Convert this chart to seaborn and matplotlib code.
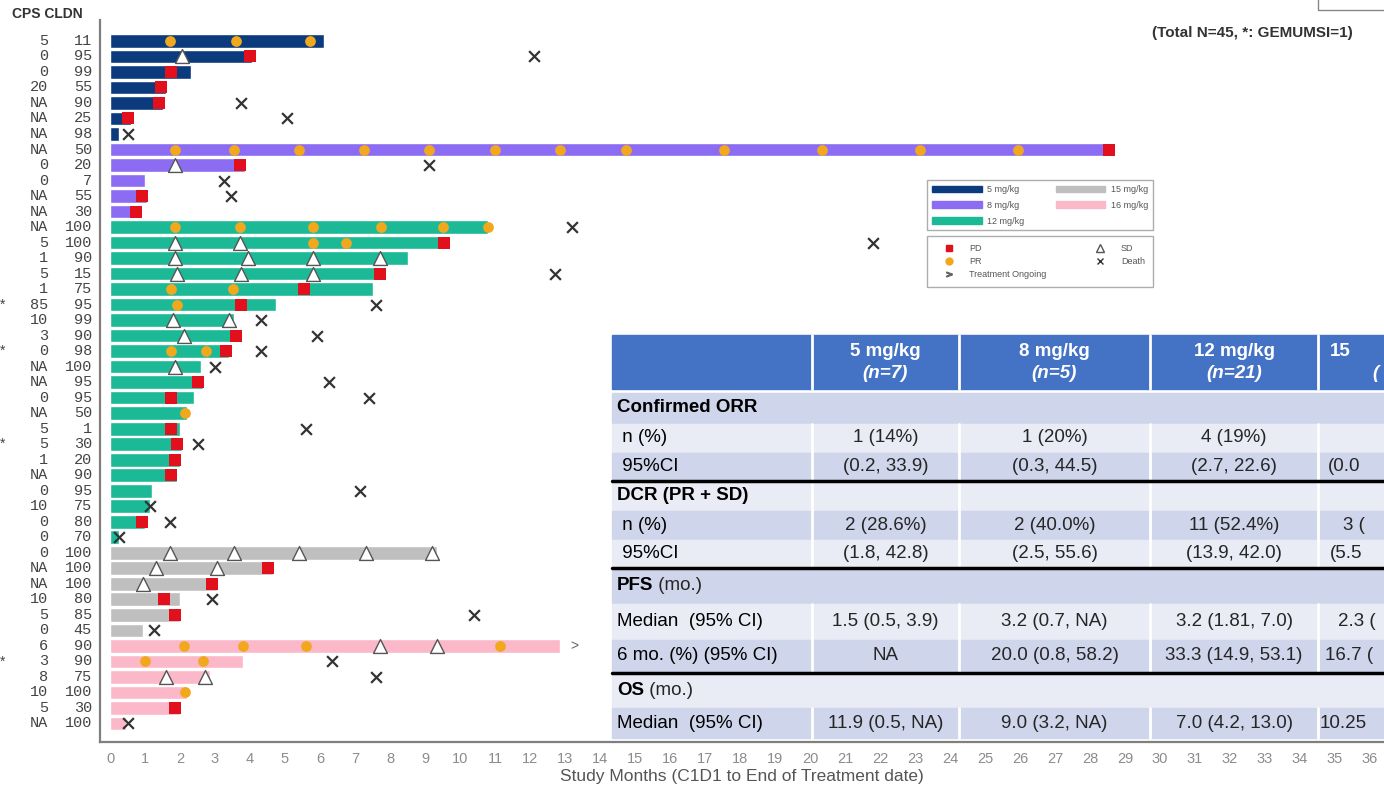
import numpy as np
import pandas as pd
import seaborn as sns
import matplotlib.pyplot as plt
from matplotlib.patches import Patch, Rectangle
from matplotlib.lines import Line2D
from matplotlib.transforms import blended_transform_factory

sns.set_style('white')
plt.rcParams['font.family'] = ['Liberation Sans', 'DejaVu Sans']

W, H = 1384, 785

# --- datos por paciente (arriba -> abajo) ---
dose_groups = ['5 mg/kg', '8 mg/kg', '12 mg/kg', '15 mg/kg', '16 mg/kg']
dose_n = [7, 5, 21, 6, 6]
dose_colors = ['#0b3b7c', '#8b6cf3', '#1bb996', '#bfbfbf', '#fbb8c9']

cps = ['5', '0', '0', '20', 'NA', 'NA', 'NA',
       'NA', '0', '0', 'NA', 'NA',
       'NA', '5', '1', '5', '1', '85', '10', '3', '0', 'NA', 'NA', '0', 'NA',
       '5', '5', '1', 'NA', '0', '10', '0', '0',
       '0', 'NA', 'NA', '10', '5', '0',
       '6', '3', '8', '10', '5', 'NA']
cldn = ['11', '95', '99', '55', '90', '25', '98',
        '50', '20', '7', '55', '30',
        '100', '100', '90', '15', '75', '95', '99', '90', '98', '100', '95', '95', '50',
        '1', '30', '20', '90', '95', '75', '80', '70',
        '100', '100', '100', '80', '85', '45',
        '90', '90', '75', '100', '30', '100']
gemumsi_rows = [17, 20, 26, 40]

months = [6.1, 4.05, 2.3, 1.6, 1.5, 0.6, 0.25,
          28.6, 3.85, 1.0, 1.05, 0.9,
          10.8, 9.65, 8.5, 7.85, 7.5, 4.75, 3.55, 3.75, 3.4, 2.6, 2.65, 2.4, 2.2,
          2.0, 2.05, 2.0, 1.9, 1.2, 1.15, 1.0, 0.25,
          9.35, 4.65, 3.05, 2.0, 2.0, 0.95,
          12.85, 3.8, 2.85, 2.2, 2.0, 0.45]
death = [np.nan, 12.1, np.nan, np.nan, 3.75, 5.05, 0.5,
         np.nan, 9.1, 3.25, 3.45, np.nan,
         13.2, 21.8, np.nan, 12.7, np.nan, 7.6, 4.3, 5.9, 4.3, 3.0, 6.25, 7.4, np.nan,
         5.6, 2.5, np.nan, np.nan, 7.15, 1.15, 1.7, 0.25,
         np.nan, np.nan, np.nan, 2.9, 10.4, 1.25,
         np.nan, 6.35, 7.6, np.nan, np.nan, 0.5]

pr_times = {0: [1.7, 3.6, 5.7],
            7: [1.85, 3.55, 5.4, 7.25, 9.1, 11.0, 12.85, 14.75, 17.55, 20.35, 23.15, 25.95],
            12: [1.85, 3.7, 5.8, 7.75, 9.5, 10.8],
            13: [5.8, 6.75], 16: [1.75, 3.5], 17: [1.9], 20: [1.75, 2.75], 24: [2.15],
            39: [2.1, 3.8, 5.6, 11.15], 40: [1.0, 2.65], 42: [2.15]}
sd_times = {1: [2.05], 8: [1.85], 13: [1.85, 3.7], 14: [1.85, 3.95, 5.8, 7.7],
            15: [1.9, 3.75, 5.8], 18: [1.8, 3.4], 19: [2.1], 21: [1.85],
            33: [1.7, 3.55, 5.4, 7.3, 9.2], 34: [1.3, 3.05], 35: [0.95],
            39: [7.7, 9.35], 41: [1.6, 2.7]}
pd_times = {1: 4.0, 2: 1.75, 3: 1.45, 4: 1.4, 5: 0.5, 7: 28.55, 8: 3.7, 10: 0.9, 11: 0.75,
            13: 9.55, 15: 7.7, 16: 5.55, 17: 3.75, 19: 3.6, 20: 3.3, 22: 2.5, 23: 1.75,
            25: 1.75, 26: 1.9, 27: 1.85, 28: 1.75, 31: 0.9, 34: 4.5, 35: 2.9, 36: 1.55,
            37: 1.85, 43: 1.85}
ongoing = {39: 13.05}

# --- tabla ---
tab_cols = ['5 mg/kg', '8 mg/kg', '12 mg/kg']
tab_n = ['(n=7)', '(n=5)', '(n=21)']
orr_n = ['1 (14%)', '1 (20%)', '4 (19%)', '']
orr_ci = ['(0.2, 33.9)', '(0.3, 44.5)', '(2.7, 22.6)', '(0.0']
dcr_n = ['2 (28.6%)', '2 (40.0%)', '11 (52.4%)', '3 (']
dcr_ci = ['(1.8, 42.8)', '(2.5, 55.6)', '(13.9, 42.0)', '(5.5']
pfs_med = ['1.5 (0.5, 3.9)', '3.2 (0.7, NA)', '3.2 (1.81, 7.0)', '2.3 (']
pfs_6mo = ['NA', '20.0 (0.8, 58.2)', '33.3 (14.9, 53.1)', '16.7 (']
os_med = ['11.9 (0.5, NA)', '9.0 (3.2, NA)', '7.0 (4.2, 13.0)', '10.25']

n_rows = len(months)
row_ids = ['r%d' % i for i in range(n_rows)]
dose = [g for g, n in zip(dose_groups, dose_n) for _ in range(n)]
df = pd.DataFrame({'row': row_ids, 'months': months, 'dose': dose})

fig = plt.figure(figsize=(W / 100, H / 100), dpi=100)
ax = fig.add_axes([100 / W, 1 - 742 / H, (W - 100) / W, (742 - 20) / H])

sns.barplot(data=df, x='months', y='row', hue='dose', order=row_ids, hue_order=dose_groups,
            palette=dict(zip(dose_groups, dose_colors)), dodge=False, orient='h',
            width=0.88, saturation=1, errorbar=None, legend=False, ax=ax)


def flat(d):
    xs, ys = [], []
    for r, v in d.items():
        for t in np.atleast_1d(v):
            xs.append(t)
            ys.append(r)
    return xs, ys


x, y = flat(pr_times)
ax.scatter(x, y, s=60, marker='o', color='#f2a81d', zorder=4, linewidths=0)
x, y = flat(sd_times)
ax.scatter(x, y, s=100, marker='^', facecolor='white', edgecolor='#555555', linewidths=1.0, zorder=5)
x, y = flat(pd_times)
ax.scatter(x, y, s=75, marker='s', color='#e2101c', zorder=5, linewidths=0)
ax.scatter(death, range(n_rows), s=60, marker='x', color='#333333', linewidths=1.6, zorder=6)
for r, t in ongoing.items():
    ax.text(t + 0.1, r, '>', fontsize=10, color='#666666', va='center', ha='left')

ax.set_xlim(-10 / 35, (W - 110) / 35)
ax.set_ylim(n_rows + 0.2, -1.35)
ax.set_xticks(range(0, 37))
ax.set_yticks([])
ax.set_xlabel('')
ax.set_ylabel('')
ax.tick_params(axis='x', colors='#8c8c8c', labelsize=10.5, length=3, width=1, pad=4)
for s in ['top', 'right']:
    ax.spines[s].set_visible(False)
for s in ['left', 'bottom']:
    ax.spines[s].set_color('#7f7f7f')
    ax.spines[s].set_linewidth(1.6)

# etiquetas CPS / CLDN
trans = blended_transform_factory(fig.transFigure, ax.transData)
for i in range(n_rows):
    ax.text(48 / W, i, cps[i], transform=trans, ha='right', va='center',
            family='Liberation Mono', fontsize=11, color='#444444')
    ax.text(92 / W, i, cldn[i], transform=trans, ha='right', va='center',
            family='Liberation Mono', fontsize=11, color='#444444')
for i in gemumsi_rows:
    ax.text(0, i, '*', transform=trans, ha='left', va='center', fontsize=10, color='#444444')

fig.text(12 / W, 1 - 14 / H, 'CPS CLDN', fontsize=10, fontweight='bold', color='#333333', va='center')
fig.text(742 / W, 1 - 776 / H, 'Study Months (C1D1 to End of Treatment date)',
         fontsize=12.5, color='#555555', ha='center', va='center')
fig.text(1152 / W, 1 - 33 / H, '(Total N=45, *: GEMUMSI=1)', fontsize=11, fontweight='bold',
         color='#333333', va='center')

# leyendas
dose_handles = [Patch(color=c, label=g) for g, c in zip(dose_groups, dose_colors)]
lg1 = fig.legend(handles=dose_handles, ncol=2, loc='upper left',
                 bbox_to_anchor=(927 / W, 1 - 180 / H, 226 / W, 0), mode='expand',
                 fontsize=6.5, frameon=True, fancybox=False, edgecolor='#999999',
                 handlelength=5.5, handleheight=0.75, labelspacing=0.75, borderpad=0.55,
                 handletextpad=0.6, borderaxespad=0)
for t in lg1.get_texts():
    t.set_color('#555555')
ev_handles = [Line2D([], [], ls='none', marker='s', color='#e2101c', ms=5, label='PD'),
              Line2D([], [], ls='none', marker='o', color='#f2a81d', ms=5, label='PR'),
              Line2D([], [], ls='none', marker='$>$', color='#666666', ms=4, label='Treatment Ongoing'),
              Line2D([], [], ls='none', marker='^', mfc='white', mec='#555555', ms=6, label='SD'),
              Line2D([], [], ls='none', marker='x', color='#333333', ms=5, label='Death')]
lg2 = fig.legend(handles=ev_handles, ncol=2, loc='upper left',
                 bbox_to_anchor=(927 / W, 1 - 236 / H, 226 / W, 0), mode='expand',
                 fontsize=6.5, frameon=True, fancybox=False, edgecolor='#999999',
                 handlelength=3, labelspacing=0.45, borderpad=0.9, handletextpad=0.8,
                 borderaxespad=0)
for t in lg2.get_texts():
    t.set_color('#555555')

fig.patches.append(Rectangle((1318 / W, 1 - 10 / H), 80 / W, 20 / H, transform=fig.transFigure,
                             fill=False, edgecolor='#888888', lw=1))

# tabla en pixeles
tax = fig.add_axes([0, 0, 1, 1], zorder=10)
tax.set_xlim(0, W)
tax.set_ylim(H, 0)
tax.axis('off')

tfam = ['Liberation Sans Narrow', 'Liberation Sans', 'DejaVu Sans']
fs = 13.5
dark, light = '#cfd5ea', '#e9ebf5'
xb = [612, 812, 959, 1150, 1318, 1460]
centers = [(xb[i] + xb[i + 1]) / 2 for i in range(1, 4)]
frag_x = [1340, 1328, 1343, 1330, 1338, 1325, 1320]

tax.add_patch(Rectangle((xb[0], 335), W - xb[0] + 10, 54, color='#4472c4'))
for xv in xb[1:5]:
    tax.plot([xv, xv], [335, 389], color='white', lw=2)
for c, name, n in zip(centers, tab_cols, tab_n):
    tax.text(c, 351, name, ha='center', va='center', color='white', fontsize=fs,
             fontweight='bold', family=tfam)
    tax.text(c, 374, n, ha='center', va='center', color='white', fontsize=fs,
             fontweight='bold', style='italic', family=tfam)
tax.text(1330, 351, '15', ha='left', va='center', color='white', fontsize=fs,
         fontweight='bold', family=tfam)
tax.text(1372, 374, '(', ha='left', va='center', color='white', fontsize=fs,
         fontweight='bold', style='italic', family=tfam)

rows = [('Confirmed ORR', '', None, 393, 423, dark, False),
        (' n (%)', '', orr_n, 424, 452, light, True),
        (' 95%CI', '', orr_ci, 453, 480, dark, True),
        ('DCR (PR + SD)', '', None, 482, 510, light, True),
        (' n (%)', '', dcr_n, 511, 539, dark, True),
        (' 95%CI', '', dcr_ci, 540, 567, light, True),
        ('PFS', ' (mo.)', None, 569, 603, dark, False),
        ('Median  (95% CI)', '', pfs_med, 604, 639, light, True),
        ('6 mo. (%) (95% CI)', '', pfs_6mo, 640, 672, dark, True),
        ('OS', ' (mo.)', None, 674, 707, light, False),
        ('Median  (95% CI)', '', os_med, 708, 738, dark, True)]
k = 0
for label, extra, vals, y0, y1, col, sep in rows:
    tax.add_patch(Rectangle((xb[0], y0), W - xb[0] + 10, y1 - y0, color=col))
    if sep:
        for xv in xb[1:5]:
            tax.plot([xv, xv], [y0, y1], color='white', lw=2)
    yc = (y0 + y1) / 2
    t = tax.text(617, yc, label, ha='left', va='center', fontsize=fs, color='black',
                 fontweight='bold' if vals is None else 'normal', family=tfam)
    if extra:
        tax.annotate(extra, xy=(1, 0.5), xycoords=t, ha='left', va='center', fontsize=fs,
                     family=tfam)
    if vals is not None:
        for c, v in zip(centers, vals[:3]):
            tax.text(c, yc, v, ha='center', va='center', fontsize=fs, family=tfam)
        tax.text(frag_x[k], yc, vals[3], ha='left', va='center', fontsize=fs, family=tfam)
        k += 1
for yl in [481, 568, 673]:
    tax.plot([xb[0], W], [yl, yl], color='black', lw=2.5)

fig.savefig('out.png', dpi=100)
